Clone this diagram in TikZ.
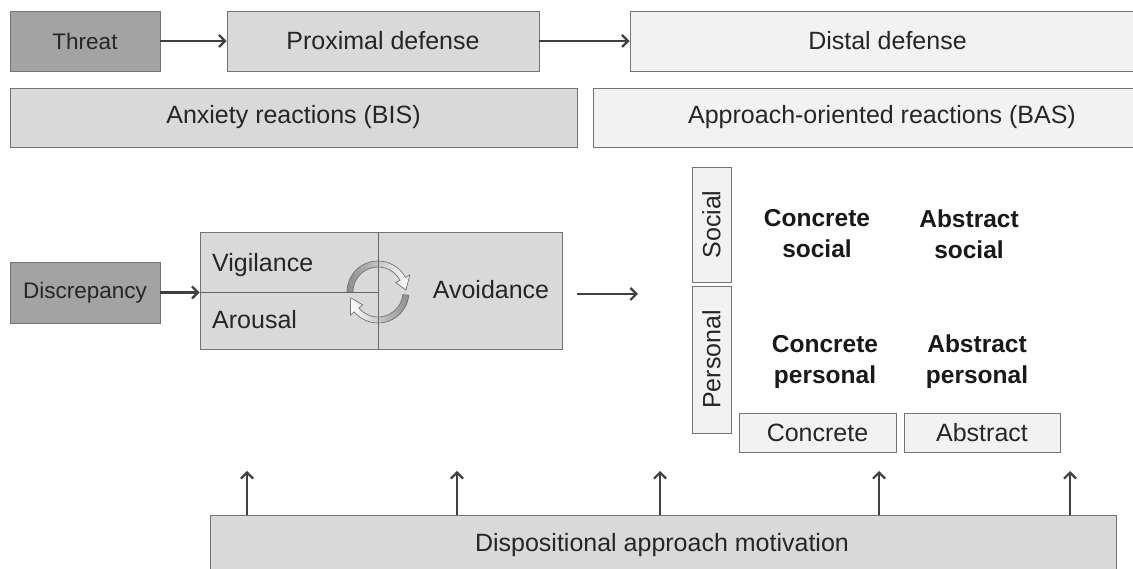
\documentclass[tikz,border=0pt]{standalone}
\usepackage{fontspec}
\setmainfont{Liberation Sans}
\usetikzlibrary{arrows.meta,shadows,calc}
\begin{document}
\begin{tikzpicture}[x=1pt,y=1pt,
  box/.style={draw=black!55, line width=0.9pt, inner sep=0pt,
    drop shadow={shadow xshift=0.9pt, shadow yshift=-0.9pt, fill=black!60, opacity=1},
    font=\fontsize{25}{29}\selectfont, text=black!85},
  darkbox/.style={box, fill=black!36, font=\fontsize{22.5}{27}\selectfont},
  midbox/.style={box, fill=black!15},
  lightbox/.style={box, fill=black!5},
  arr/.style={draw=black!75, line width=2.4pt,
    -{Straight Barb[length=6pt,width=12pt,line width=2.2pt]}},
  lbl/.style={font=\fontsize{25}{29}\selectfont, text=black!85, inner sep=0pt},
  boldlbl/.style={font=\bfseries\fontsize{24.5}{31}\selectfont, align=center, inner sep=0pt, text=black!90},
  divider/.style={draw=black!60, line width=0.9pt},
  cyc/.style={draw=black!55, line width=0.7pt}
]
\useasboundingbox (0,0) rectangle (1133,569);
\clip (0,0) rectangle (1133,569);
\fill[white] (0,0) rectangle (1133,569);

% top row
\node[darkbox, minimum width=150pt, minimum height=60pt] (threat) at (85,528) {Threat};
\node[midbox, minimum width=312pt, minimum height=60pt] (prox) at (383,528) {Proximal defense};
\node[lightbox, minimum width=515pt, minimum height=60pt] (distal) at (887.5,528) {Distal defense};
\draw[arr] (threat) -- (prox);
\draw[arr] (prox) -- (distal);

% second row
\node[midbox, minimum width=567pt, minimum height=59pt] (anx) at (293.5,451.5) {Anxiety reactions (BIS)};
\node[lightbox, minimum width=578pt, minimum height=59pt] (appr) at (882,451.5) {Approach-oriented reactions (BAS)};

% middle
\node[darkbox, minimum width=150pt, minimum height=61pt] (disc) at (85,276.5) {Discrepancy};
\node[midbox, minimum width=362pt, minimum height=117pt] (main) at (381,278.5) {};
\draw[arr] (disc.east) -- (disc.east -| main.west);

\coordinate (cc) at (378,277);
\begin{scope}[shift={(cc)}]
  \shade[cyc, left color=black!45, right color=white]
    (180:31) arc[start angle=180, end angle=28, radius=31] -- (28:36) -- (4:28) -- (28:20) -- (28:25)
    arc[start angle=28, end angle=180, radius=25] -- cycle;
  \shade[cyc, left color=white, right color=black!45]
    (-6:31) arc[start angle=-6, end angle=-140, radius=31] -- (220:36) -- (192:28) -- (220:20) -- (220:25)
    arc[start angle=-140, end angle=-6, radius=25] -- cycle;
\end{scope}
\draw[divider] (main.north -| cc) -- (main.south -| cc);
\draw[divider] (main.west |- cc) -- (cc);

\node[lbl, anchor=base west] (vig) at (212,297) {Vigilance};
\node[lbl, anchor=base west] (aro) at (212,240) {Arousal};
\node[lbl, anchor=base] (avo) at (491,270) {Avoidance};

\coordinate (avs) at (577,275);
\coordinate (ave) at (638,275);
\draw[arr] (avs) -- (ave);

% grid
\node[lightbox, minimum width=39pt, minimum height=115pt] (soc) at (711.5,344.5) {};
\node[lbl, rotate=90] (soct) at (soc) {Social};
\node[lightbox, minimum width=39pt, minimum height=147pt] (pers) at (711.5,209.5) {};
\node[lbl, rotate=90] (perst) at (pers) {Personal};

\node[boldlbl] (cs) at (817,335) {Concrete\\social};
\node[boldlbl] (as) at (969,335) {Abstract\\social};
\node[boldlbl] (cp) at (825,207) {Concrete\\personal};
\node[boldlbl] (ap) at (977,207) {Abstract\\personal};

\node[lightbox, minimum width=157pt, minimum height=39pt] (conc) at (817.5,136.5) {Concrete};
\node[lightbox, minimum width=156pt, minimum height=39pt] (abst) at (982,136.5) {Abstract};

% bottom
\node[midbox, minimum width=906pt, minimum height=90pt, anchor=north west] (disp) at (210,54) {};
\node[lbl] (dispt) at (662,24) {Dispositional approach motivation};
\foreach \x [count=\i] in {247,457,660,879,1070} {
  \coordinate (up\i) at (\x,98);
  \draw[arr] (disp.north -| up\i) -- (up\i);
}
\end{tikzpicture}
\end{document}
